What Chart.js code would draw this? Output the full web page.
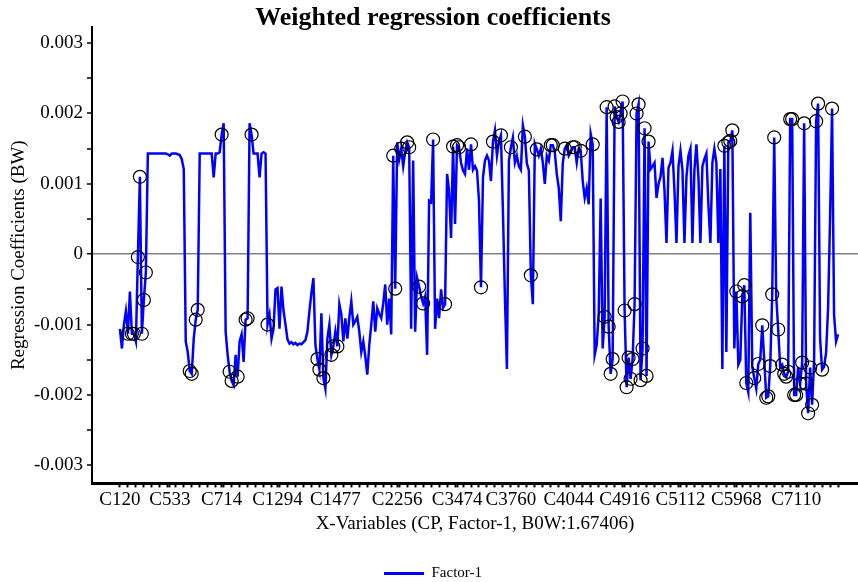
<!DOCTYPE html>
<html>
<head>
<meta charset="utf-8">
<title>Weighted regression coefficients</title>
<script src="https://cdn.jsdelivr.net/npm/chart.js@4.4.1/dist/chart.umd.min.js"></script>
<style>
    html, body { margin: 0; padding: 0; background: #fff; }
    #wrap { width: 858px; height: 582px; }
</style>
</head>
<body>
<div id="wrap"><canvas id="coef" width="858" height="582"></canvas></div>
<script>
// weighted regression coefficients, one per x-variable, in units of 0.001
var coef = [
    -1.06, -1.34, -1.0, -0.81, -1.13, -0.53, -1.13, -1.13, -1.24, -0.04,
    1.1, -1.13, -0.65, -0.26, 1.43, 1.43, 1.43, 1.43, 1.43, 1.43,
    1.43, 1.43, 1.43, 1.43, 1.42, 1.40, 1.43, 1.43, 1.43, 1.42,
    1.41, 1.35, 1.21, -1.24, -1.39, -1.66, -1.7, -1.2, -0.93, -0.79,
    1.43, 1.43, 1.43, 1.43, 1.43, 1.43, 1.43, 1.09, 1.43, 1.43,
    1.45, 1.7, 1.86, -1.1, -1.43, -1.67, -1.8, -1.86, -1.43, -1.74,
    -1.24, -1.14, -1.53, -0.93, -0.91, 1.86, 1.7, 1.43, 1.43, 1.43,
    1.09, 1.43, 1.45, 1.43, -1.0, -0.86, -1.2, -1.06, -0.5, -0.48,
    -1.06, -0.46, -0.8, -1.0, -1.21, -1.27, -1.25, -1.28, -1.26, -1.29,
    -1.27, -1.28, -1.25, -1.22, -1.1, -0.81, -0.55, -0.34, -1.29, -1.49,
    -1.64, -0.84, -1.76, -1.91, -1.2, -1.0, -1.43, -1.31, -1.1, -1.31,
    -0.71, -0.86, -1.24, -0.91, -1.2, -0.9, -0.67, -1.0, -0.95, -0.89,
    -1.1, -1.39, -1.24, -1.45, -1.71, -1.29, -1.0, -0.67, -1.1, -0.77,
    -0.85, -0.91, -0.7, -0.43, -1.0, -0.63, -1.14, 1.4, -0.49, 1.59,
    1.35, 1.5, 1.25, 1.45, 1.59, 1.52, -1.06, 1.33, -1.1, -0.34,
    -0.46, -0.6, -0.7, -0.6, -1.43, 0.76, 0.74, 1.63, -1.06, -0.63,
    -0.91, -0.5, -0.76, -0.71, 1.14, 0.9, 0.23, 1.53, 0.43, 1.55,
    1.52, 1.3, 1.19, 1.14, 1.5, 1.2, 1.56, 1.2, 1.25, 1.19,
    0.76, -0.47, 1.09, 1.33, 1.4, 1.33, 1.04, 1.6, 1.76, 1.4,
    1.6, 1.69, 0.61, -0.6, -1.63, 1.33, 1.52, 1.66, 1.3, 1.4,
    1.25, 1.2, 1.83, 1.67, 1.29, 1.19, -0.3, -0.71, 1.57, 1.49,
    1.4, 1.5, 1.3, 1.0, 1.4, 1.33, 1.55, 1.55, 1.45, 1.14,
    0.94, 0.47, 1.29, 1.5, 1.55, 1.4, 1.45, 1.52, 1.52, 1.3,
    1.5, 1.47, 1.04, 0.8, 0.94, 0.71, 1.71, 1.56, -1.43, -1.29,
    -0.86, 0.79, -1.34, -0.89, 2.09, -1.03, -1.7, -1.49, 2.1, 1.95,
    1.88, 2.0, 2.17, -0.8, -1.89, -1.47, -1.77, -1.49, -0.71, 2.0,
    2.13, -1.79, -1.34, 1.79, -1.73, 1.6, 1.21, 1.25, 1.3, 0.8,
    1.0, 1.1, 1.37, 0.9, 0.16, 1.23, 1.3, 1.47, 0.9, 0.16,
    1.25, 1.47, 1.2, 0.16, 1.1, 1.4, 1.5, 0.16, 1.2, 1.56,
    1.1, 0.16, 1.25, 1.35, 1.43, 0.7, 0.16, 1.3, 1.5, 1.3,
    0.16, 1.21, -1.63, 1.54, -1.39, 1.59, 1.61, 1.76, -1.34, -0.53,
    -1.57, -1.5, -0.6, -0.44, -1.83, -1.96, 0.59, -1.6, -1.76, -1.91,
    -1.56, -1.5, -1.01, -1.5, -2.04, -2.02, -1.59, -0.57, 1.66, -0.6,
    -1.07, -1.6, -1.57, -1.7, -1.74, -1.67, 1.92, 1.92, -2.0, -2.0,
    -1.6, -1.84, -1.54, 1.86, -1.84, -2.26, -1.61, -2.14, -1.5, 1.89,
    2.14, -1.2, -1.64, -1.6, -1.4, -0.77, 0.5, 2.07, -0.86, -1.24, -1.14
];

// variables marked with a circle (positions in coef)
var selected = [
    4, 6, 7, 9, 10, 11, 12, 13,
    35, 36, 38, 39,
    51, 55, 56, 59, 63, 64, 66,
    74, 99, 100, 102, 106, 107, 109,
    137, 138, 141, 144, 145, 150, 152, 157, 163, 167, 169, 170, 176, 181,
    187, 191, 196, 203, 206, 209, 216, 217, 223, 227, 228, 231, 237,
    243, 244, 245, 246, 247, 248, 249, 250, 251, 252, 253, 254, 255, 256,
    257, 258, 259, 260, 261, 262, 263, 264, 265,
    303, 305, 306, 307, 309, 312, 313, 314, 318, 320, 322, 324, 325, 326,
    327, 328, 330, 332, 333, 334, 335, 336, 337, 338, 339, 341, 342, 343,
    344, 345, 346, 347, 349, 350, 352, 357
];

// x-axis labels and the variable each one sits under
var xLabels = ['C120', 'C533', 'C714', 'C1294', 'C1477', 'C2256', 'C3474',
               'C3760', 'C4044', 'C4916', 'C5112', 'C5968', 'C7110'];
var xLabelAt = [0, 25, 51, 79, 108, 139, 169, 196, 225, 253, 281, 309, 339];

// y-axis tick labels (axis runs in units of 0.001)
var yTickValues = [-3, -2, -1, 0, 1, 2, 3];
var yTickLabels = ['-0.003', '-0.002', '-0.001', '0', '0.001', '0.002', '0.003'];

var serif = "'Liberation Serif', 'Times New Roman', serif";

var lineData = [];
for (var i = 0; i < coef.length; i++) {
    lineData.push({ x: i, y: coef[i] });
}
var circleData = [];
for (var j = 0; j < selected.length; j++) {
    circleData.push({ x: selected[j], y: coef[selected[j]] });
}

var ctx = document.getElementById('coef');

var coefChart = new Chart(ctx, {
    type: 'line',
    data: {
        datasets: [{
            label: 'selected',
            data: circleData,
            showLine: false,
            pointRadius: 6.5,
            pointBorderColor: '#000000',
            pointBackgroundColor: 'rgba(0,0,0,0)',
            pointBorderWidth: 1.2,
            order: 0
        }, {
            label: 'Factor-1',
            data: lineData,
            borderColor: '#0000ff',
            backgroundColor: '#0000ff',
            borderWidth: 2.5,
            pointRadius: 0,
            tension: 0,
            order: 1
        }]
    },
    options: {
        responsive: false,
        animation: false,
        devicePixelRatio: 1,
        layout: { autoPadding: false, padding: { left: 8, right: 0, top: 0, bottom: -9 } },
        plugins: {
            title: {
                display: true,
                text: 'Weighted regression coefficients',
                color: '#000',
                font: { family: serif, size: 26, weight: 'bold', lineHeight: 1 },
                padding: { top: 5, bottom: -4 }
            },
            legend: {
                position: 'bottom',
                labels: {
                    boxWidth: 40,
                    boxHeight: 3,
                    padding: 3,
                    color: '#000',
                    font: { family: serif, size: 15 },
                    generateLabels: function (chart) {
                        var items = Chart.defaults.plugins.legend.labels.generateLabels(chart);
                        return items.filter(function (it) { return it.datasetIndex === 1; })
                            .map(function (it) { it.lineWidth = 0; it.fillStyle = '#0000ff'; return it; });
                    }
                }
            },
            tooltip: { enabled: false }
        },
        scales: {
            x: {
                type: 'linear',
                min: -14,
                max: 370,
                afterFit: function (scale) { scale.paddingLeft = 0; scale.paddingRight = 0; },
                border: { display: true, color: '#000', width: 3 },
                grid: {
                    drawOnChartArea: false,
                    tickLength: 4,
                    tickWidth: 2,
                    tickColor: function (c) {
                        var v = c.tick ? c.tick.value : -1;
                        if (v < 0 || v >= coef.length) return 'rgba(0,0,0,0)';
                        if (xLabelAt.indexOf(v) >= 0 || v % 4 === 0) return '#000';
                        return 'rgba(0,0,0,0)';
                    }
                },
                ticks: {
                    stepSize: 1,
                    autoSkip: false,
                    maxRotation: 0,
                    includeBounds: false,
                    padding: 1,
                    color: '#000',
                    font: { family: serif, size: 19 },
                    callback: function (value) {
                        var k = xLabelAt.indexOf(value);
                        return k >= 0 ? xLabels[k] : '';
                    }
                },
                title: {
                    display: true,
                    text: 'X-Variables (CP, Factor-1, B0W:1.67406)',
                    color: '#000',
                    font: { family: serif, size: 19 },
                    padding: { top: 0, bottom: 28 }
                }
            },
            y: {
                min: -3.257,
                max: 3.229,
                afterFit: function (scale) { scale.width = 84; },
                border: { display: true, color: '#000', width: 2 },
                grid: {
                    drawOnChartArea: true,
                    tickLength: 5,
                    color: function (c) { return c.tick && c.tick.value === 0 ? '#808080' : 'rgba(0,0,0,0)'; },
                    lineWidth: function (c) { return c.tick && c.tick.value === 0 ? 1.5 : 0; },
                    tickColor: '#000',
                    tickWidth: 1.5
                },
                ticks: {
                    stepSize: 0.5,
                    includeBounds: false,
                    padding: 4,
                    color: '#000',
                    font: { family: serif, size: 19 },
                    callback: function (value) {
                        var k = yTickValues.indexOf(value);
                        return k >= 0 ? yTickLabels[k] : '';
                    }
                },
                title: {
                    display: true,
                    text: 'Regression Coefficients (BW)',
                    color: '#000',
                    font: { family: serif, size: 19 },
                    padding: { top: 0, bottom: 0 }
                }
            }
        }
    }
});
</script>
</body>
</html>
